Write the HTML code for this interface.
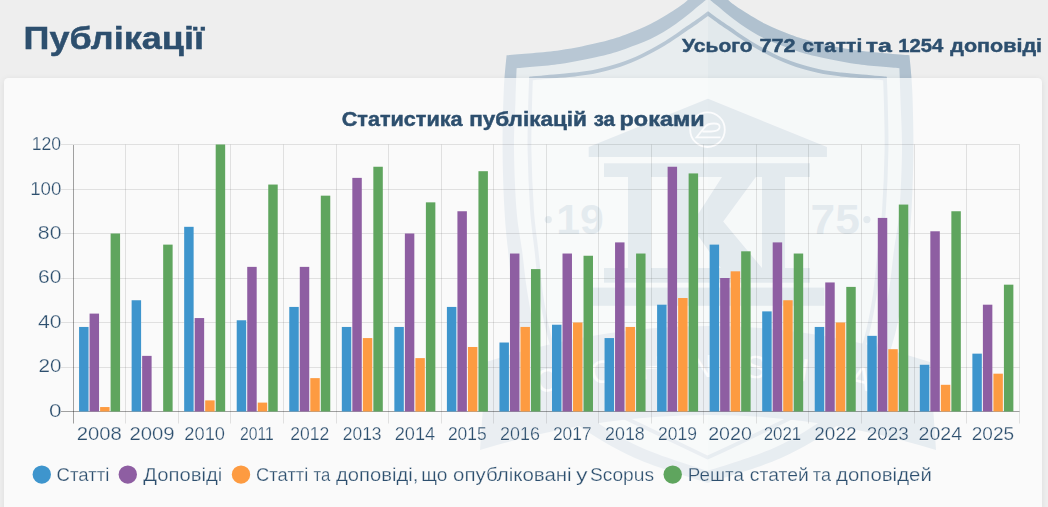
<!DOCTYPE html>
<html lang="uk"><head><meta charset="utf-8"><title>Публікації</title>
<style>
html,body{margin:0;padding:0;}
body{width:1048px;height:507px;overflow:hidden;background:#eeeeee;position:relative;font-family:"Liberation Sans",Arial,sans-serif;}
#wm{position:absolute;left:0;top:0;}
.card{position:absolute;left:4px;top:78px;width:1038px;height:470px;background:rgba(255,255,255,0.7);border-radius:4.5px;box-shadow:0 1px 6px rgba(0,0,0,0.08);}
#ch{position:absolute;left:0;top:0;will-change:transform;}
.t{font-family:"Liberation Sans",Arial,sans-serif;fill:#2d4f6e;stroke:#f9f9f9;stroke-width:0.25px;}
.b{font-family:"Liberation Sans",Arial,sans-serif;font-weight:bold;fill:#2d4f6e;stroke:#2d4f6e;stroke-width:0.45px;}
.g{stroke:rgba(0,0,0,0.1);stroke-width:1;}
.a{stroke:rgba(0,0,0,0.36);stroke-width:1;}
</style></head><body>
<svg id="wm" width="1048" height="507" viewBox="0 0 1048 507"><defs><clipPath id="cl"><rect x="0" y="-40" width="708" height="600"/></clipPath><clipPath id="cr"><rect x="708" y="-40" width="400" height="600"/></clipPath></defs>
<g clip-path="url(#cl)">
<path d="M708.0,-19.0 C704.7,-15.9 693.8,-5.2 688.4,-0.5 C683.0,4.2 682.1,4.9 675.8,9.0 C669.5,13.1 658.9,19.7 650.5,24.0 C642.1,28.3 633.7,31.7 625.3,34.7 C616.9,37.8 610.9,39.7 600.0,42.3 C589.1,44.9 575.6,48.1 560.0,50.2 C544.4,52.4 515.5,54.4 506.6,55.2 C506.1,61.0 504.5,74.2 503.8,90.0 C503.1,105.8 502.5,130.0 502.6,150.0 C502.7,170.0 503.6,193.3 504.5,210.0 C505.4,226.7 506.4,235.0 508.0,250.0 C509.6,265.0 511.3,284.2 514.0,300.0 C516.7,315.8 519.3,330.0 524.0,345.0 C528.7,360.0 533.0,376.7 542.0,390.0 C551.0,403.3 562.5,413.7 578.0,425.0 C593.5,436.3 613.4,448.3 635.0,458.0 C656.6,467.7 695.4,478.8 707.5,483.0 C720.6,478.8 759.4,467.7 781.0,458.0 C802.6,448.3 822.5,436.3 838.0,425.0 C853.5,413.7 865.0,403.3 874.0,390.0 C883.0,376.7 887.3,360.0 892.0,345.0 C896.7,330.0 899.3,315.8 902.0,300.0 C904.7,284.2 906.4,265.0 908.0,250.0 C909.6,235.0 910.6,226.7 911.5,210.0 C912.4,193.3 913.3,170.0 913.4,150.0 C913.5,130.0 912.9,105.8 912.2,90.0 C911.5,74.2 909.9,61.0 909.4,55.2 C900.5,54.4 871.6,52.4 856.0,50.2 C840.4,48.1 826.9,44.9 816.0,42.3 C805.1,39.7 799.1,37.8 790.7,34.7 C782.3,31.7 773.9,28.3 765.5,24.0 C757.1,19.7 746.5,13.1 740.2,9.0 C733.9,4.9 733.0,4.2 727.6,-0.5 C722.2,-5.2 711.3,-15.9 708.0,-19.0 Z" fill="#e8edef"/>
<path d="M708.0,-19.0 C704.7,-15.9 693.8,-5.2 688.4,-0.5 C683.0,4.2 682.1,4.9 675.8,9.0 C669.5,13.1 658.9,19.7 650.5,24.0 C642.1,28.3 633.7,31.7 625.3,34.7 C616.9,37.8 610.9,39.7 600.0,42.3 C589.1,44.9 575.6,48.1 560.0,50.2 C544.4,52.4 515.5,54.4 506.6,55.2 C506.1,61.0 504.5,74.2 503.8,90.0 C503.1,105.8 502.5,130.0 502.6,150.0 C502.7,170.0 503.6,193.3 504.5,210.0 C505.4,226.7 506.4,235.0 508.0,250.0 C509.6,265.0 511.3,284.2 514.0,300.0 C516.7,315.8 519.3,330.0 524.0,345.0 C528.7,360.0 533.0,376.7 542.0,390.0 C551.0,403.3 562.5,413.7 578.0,425.0 C593.5,436.3 613.4,448.3 635.0,458.0 C656.6,467.7 695.4,478.8 707.5,483.0 C720.6,478.8 759.4,467.7 781.0,458.0 C802.6,448.3 822.5,436.3 838.0,425.0 C853.5,413.7 865.0,403.3 874.0,390.0 C883.0,376.7 887.3,360.0 892.0,345.0 C896.7,330.0 899.3,315.8 902.0,300.0 C904.7,284.2 906.4,265.0 908.0,250.0 C909.6,235.0 910.6,226.7 911.5,210.0 C912.4,193.3 913.3,170.0 913.4,150.0 C913.5,130.0 912.9,105.8 912.2,90.0 C911.5,74.2 909.9,61.0 909.4,55.2 C900.5,54.4 871.6,52.4 856.0,50.2 C840.4,48.1 826.9,44.9 816.0,42.3 C805.1,39.7 799.1,37.8 790.7,34.7 C782.3,31.7 773.9,28.3 765.5,24.0 C757.1,19.7 746.5,13.1 740.2,9.0 C733.9,4.9 733.0,4.2 727.6,-0.5 C722.2,-5.2 711.3,-15.9 708.0,-19.0 Z M708.0,-2.0 C706.8,-1.0 706.4,-0.3 701.0,4.0 C695.6,8.3 684.2,18.1 675.8,24.0 C667.4,29.9 658.9,35.0 650.5,39.1 C642.1,43.2 633.7,46.0 625.3,48.9 C616.9,51.8 610.9,53.8 600.0,56.3 C589.1,58.8 573.9,62.0 560.0,64.0 C546.1,66.0 523.8,67.5 516.6,68.2 C516.4,73.5 515.9,86.4 515.5,100.0 C515.1,113.6 513.8,131.7 514.0,150.0 C514.2,168.3 515.2,193.3 516.5,210.0 C517.8,226.7 520.2,236.7 522.0,250.0 C523.8,263.3 524.7,275.8 527.0,290.0 C529.3,304.2 531.7,320.0 536.0,335.0 C540.3,350.0 544.5,366.7 553.0,380.0 C561.5,393.3 572.5,403.8 587.0,415.0 C601.5,426.2 619.9,437.7 640.0,447.0 C660.1,456.3 696.2,467.0 707.5,471.0 C719.8,467.0 755.9,456.3 776.0,447.0 C796.1,437.7 814.5,426.2 829.0,415.0 C843.5,403.8 854.5,393.3 863.0,380.0 C871.5,366.7 875.7,350.0 880.0,335.0 C884.3,320.0 886.7,304.2 889.0,290.0 C891.3,275.8 892.2,263.3 894.0,250.0 C895.8,236.7 898.2,226.7 899.5,210.0 C900.8,193.3 901.8,168.3 902.0,150.0 C902.2,131.7 900.9,113.6 900.5,100.0 C900.1,86.4 899.6,73.5 899.4,68.2 C892.2,67.5 869.9,66.0 856.0,64.0 C842.1,62.0 826.9,58.8 816.0,56.3 C805.1,53.8 799.1,51.8 790.7,48.9 C782.3,46.0 773.9,43.2 765.5,39.1 C757.1,35.0 748.6,29.9 740.2,24.0 C731.8,18.1 720.4,8.3 715.0,4.0 C709.6,-0.3 709.2,-1.0 708.0,-2.0 Z" fill-rule="evenodd" fill="#b8c7d4"/>
<path d="M708.0,13.6 C706.2,14.9 700.7,19.0 697.0,21.6 C693.3,24.2 689.7,26.6 686.0,29.1 C682.3,31.6 678.7,34.3 675.0,36.8 C671.3,39.3 667.7,41.7 664.0,43.9 C660.3,46.1 656.7,48.2 653.0,50.2 C649.3,52.2 645.7,54.1 642.0,55.9 C638.3,57.7 634.7,59.3 631.0,60.8 C627.3,62.3 623.7,63.7 620.0,64.9 C616.3,66.1 612.7,67.2 609.0,68.2 C605.3,69.2 601.7,70.0 598.0,70.8 C594.3,71.6 590.7,72.3 587.0,72.9 C583.3,73.5 579.7,74.0 576.0,74.4 C572.3,74.8 568.7,75.2 565.0,75.5 C561.3,75.8 557.7,76.1 554.0,76.4 C550.3,76.7 546.8,77.0 543.0,77.3 C539.2,77.6 533.0,78.3 531.0,78.5 C530.8,83.8 530.2,98.1 530.0,110.0 C529.8,121.9 529.2,133.3 529.5,150.0 C529.8,166.7 530.9,193.3 532.0,210.0 C533.1,226.7 534.7,235.0 536.4,250.0 C538.1,265.0 539.4,284.2 542.0,300.0 C544.6,315.8 547.3,331.3 552.0,345.0 C556.7,358.7 562.0,372.0 570.0,382.0 C578.0,392.0 588.3,397.8 600.0,405.0 C611.7,412.2 622.1,416.2 640.0,425.0 C657.9,433.8 696.2,452.1 707.5,457.5 C719.8,452.1 758.1,433.8 776.0,425.0 C793.9,416.2 804.3,412.2 816.0,405.0 C827.7,397.8 838.0,392.0 846.0,382.0 C854.0,372.0 859.3,358.7 864.0,345.0 C868.7,331.3 871.4,315.8 874.0,300.0 C876.6,284.2 877.9,265.0 879.6,250.0 C881.3,235.0 882.9,226.7 884.0,210.0 C885.1,193.3 886.2,166.7 886.5,150.0 C886.8,133.3 886.2,121.9 886.0,110.0 C885.8,98.1 885.2,83.8 885.0,78.5 C883.0,78.3 876.8,77.6 873.0,77.3 C869.2,77.0 865.7,76.7 862.0,76.4 C858.3,76.1 854.7,75.8 851.0,75.5 C847.3,75.2 843.7,74.8 840.0,74.4 C836.3,74.0 832.7,73.5 829.0,72.9 C825.3,72.3 821.7,71.6 818.0,70.8 C814.3,70.0 810.7,69.2 807.0,68.2 C803.3,67.2 799.7,66.1 796.0,64.9 C792.3,63.7 788.7,62.3 785.0,60.8 C781.3,59.3 777.7,57.7 774.0,55.9 C770.3,54.1 766.7,52.2 763.0,50.2 C759.3,48.2 755.7,46.1 752.0,43.9 C748.3,41.7 744.7,39.3 741.0,36.8 C737.3,34.3 733.7,31.6 730.0,29.1 C726.3,26.6 722.7,24.2 719.0,21.6 C715.3,19.0 709.8,14.9 708.0,13.6 Z" fill="none" stroke="#b8c7d4" stroke-width="3.8"/>
<path d="M588.7,147 L707.8,98.7 L826.9,147 L826.9,157 L588.7,157 Z" fill="#a6bcca"/>
<path d="M604,163.2 H810 V177 H785 V268 H720.8 L698.3,236 V268 H676 V177 H651 V268 H628 V177 H604 Z M755.8,177 H762 V268 L723.2,221.5 Z M698.3,177 H722 L698.3,213.7 Z" fill-rule="evenodd" fill="#a6bcca"/>
<rect x="604" y="268" width="206" height="14.7" fill="#a6bcca"/>
<rect x="592.4" y="287.6" width="232" height="18.2" fill="#a6bcca"/>
<path d="M486,362 Q708,290 930,362 L936,450 L919,445 Q708,385 497,445 L480,450 Z" fill="#b8c7d4"/>
<text x="556.31" y="233.8" font-family="Liberation Sans, Arial, sans-serif" font-weight="bold" font-size="41.6" fill="#a6bcca" textLength="47.47" lengthAdjust="spacingAndGlyphs">19</text>
<text x="810.60" y="233.8" font-family="Liberation Sans, Arial, sans-serif" font-weight="bold" font-size="41.6" fill="#a6bcca" textLength="49.23" lengthAdjust="spacingAndGlyphs">75</text>
<circle cx="548.3" cy="219.6" r="3.6" fill="#a6bcca"/><circle cx="866.9" cy="219.6" r="3.6" fill="#a6bcca"/>
</g>
<g clip-path="url(#cr)">
<path d="M708.0,-19.0 C704.7,-15.9 693.8,-5.2 688.4,-0.5 C683.0,4.2 682.1,4.9 675.8,9.0 C669.5,13.1 658.9,19.7 650.5,24.0 C642.1,28.3 633.7,31.7 625.3,34.7 C616.9,37.8 610.9,39.7 600.0,42.3 C589.1,44.9 575.6,48.1 560.0,50.2 C544.4,52.4 515.5,54.4 506.6,55.2 C506.1,61.0 504.5,74.2 503.8,90.0 C503.1,105.8 502.5,130.0 502.6,150.0 C502.7,170.0 503.6,193.3 504.5,210.0 C505.4,226.7 506.4,235.0 508.0,250.0 C509.6,265.0 511.3,284.2 514.0,300.0 C516.7,315.8 519.3,330.0 524.0,345.0 C528.7,360.0 533.0,376.7 542.0,390.0 C551.0,403.3 562.5,413.7 578.0,425.0 C593.5,436.3 613.4,448.3 635.0,458.0 C656.6,467.7 695.4,478.8 707.5,483.0 C720.6,478.8 759.4,467.7 781.0,458.0 C802.6,448.3 822.5,436.3 838.0,425.0 C853.5,413.7 865.0,403.3 874.0,390.0 C883.0,376.7 887.3,360.0 892.0,345.0 C896.7,330.0 899.3,315.8 902.0,300.0 C904.7,284.2 906.4,265.0 908.0,250.0 C909.6,235.0 910.6,226.7 911.5,210.0 C912.4,193.3 913.3,170.0 913.4,150.0 C913.5,130.0 912.9,105.8 912.2,90.0 C911.5,74.2 909.9,61.0 909.4,55.2 C900.5,54.4 871.6,52.4 856.0,50.2 C840.4,48.1 826.9,44.9 816.0,42.3 C805.1,39.7 799.1,37.8 790.7,34.7 C782.3,31.7 773.9,28.3 765.5,24.0 C757.1,19.7 746.5,13.1 740.2,9.0 C733.9,4.9 733.0,4.2 727.6,-0.5 C722.2,-5.2 711.3,-15.9 708.0,-19.0 Z" fill="#e2e9ec"/>
<path d="M708.0,-19.0 C704.7,-15.9 693.8,-5.2 688.4,-0.5 C683.0,4.2 682.1,4.9 675.8,9.0 C669.5,13.1 658.9,19.7 650.5,24.0 C642.1,28.3 633.7,31.7 625.3,34.7 C616.9,37.8 610.9,39.7 600.0,42.3 C589.1,44.9 575.6,48.1 560.0,50.2 C544.4,52.4 515.5,54.4 506.6,55.2 C506.1,61.0 504.5,74.2 503.8,90.0 C503.1,105.8 502.5,130.0 502.6,150.0 C502.7,170.0 503.6,193.3 504.5,210.0 C505.4,226.7 506.4,235.0 508.0,250.0 C509.6,265.0 511.3,284.2 514.0,300.0 C516.7,315.8 519.3,330.0 524.0,345.0 C528.7,360.0 533.0,376.7 542.0,390.0 C551.0,403.3 562.5,413.7 578.0,425.0 C593.5,436.3 613.4,448.3 635.0,458.0 C656.6,467.7 695.4,478.8 707.5,483.0 C720.6,478.8 759.4,467.7 781.0,458.0 C802.6,448.3 822.5,436.3 838.0,425.0 C853.5,413.7 865.0,403.3 874.0,390.0 C883.0,376.7 887.3,360.0 892.0,345.0 C896.7,330.0 899.3,315.8 902.0,300.0 C904.7,284.2 906.4,265.0 908.0,250.0 C909.6,235.0 910.6,226.7 911.5,210.0 C912.4,193.3 913.3,170.0 913.4,150.0 C913.5,130.0 912.9,105.8 912.2,90.0 C911.5,74.2 909.9,61.0 909.4,55.2 C900.5,54.4 871.6,52.4 856.0,50.2 C840.4,48.1 826.9,44.9 816.0,42.3 C805.1,39.7 799.1,37.8 790.7,34.7 C782.3,31.7 773.9,28.3 765.5,24.0 C757.1,19.7 746.5,13.1 740.2,9.0 C733.9,4.9 733.0,4.2 727.6,-0.5 C722.2,-5.2 711.3,-15.9 708.0,-19.0 Z M708.0,-2.0 C706.8,-1.0 706.4,-0.3 701.0,4.0 C695.6,8.3 684.2,18.1 675.8,24.0 C667.4,29.9 658.9,35.0 650.5,39.1 C642.1,43.2 633.7,46.0 625.3,48.9 C616.9,51.8 610.9,53.8 600.0,56.3 C589.1,58.8 573.9,62.0 560.0,64.0 C546.1,66.0 523.8,67.5 516.6,68.2 C516.4,73.5 515.9,86.4 515.5,100.0 C515.1,113.6 513.8,131.7 514.0,150.0 C514.2,168.3 515.2,193.3 516.5,210.0 C517.8,226.7 520.2,236.7 522.0,250.0 C523.8,263.3 524.7,275.8 527.0,290.0 C529.3,304.2 531.7,320.0 536.0,335.0 C540.3,350.0 544.5,366.7 553.0,380.0 C561.5,393.3 572.5,403.8 587.0,415.0 C601.5,426.2 619.9,437.7 640.0,447.0 C660.1,456.3 696.2,467.0 707.5,471.0 C719.8,467.0 755.9,456.3 776.0,447.0 C796.1,437.7 814.5,426.2 829.0,415.0 C843.5,403.8 854.5,393.3 863.0,380.0 C871.5,366.7 875.7,350.0 880.0,335.0 C884.3,320.0 886.7,304.2 889.0,290.0 C891.3,275.8 892.2,263.3 894.0,250.0 C895.8,236.7 898.2,226.7 899.5,210.0 C900.8,193.3 901.8,168.3 902.0,150.0 C902.2,131.7 900.9,113.6 900.5,100.0 C900.1,86.4 899.6,73.5 899.4,68.2 C892.2,67.5 869.9,66.0 856.0,64.0 C842.1,62.0 826.9,58.8 816.0,56.3 C805.1,53.8 799.1,51.8 790.7,48.9 C782.3,46.0 773.9,43.2 765.5,39.1 C757.1,35.0 748.6,29.9 740.2,24.0 C731.8,18.1 720.4,8.3 715.0,4.0 C709.6,-0.3 709.2,-1.0 708.0,-2.0 Z" fill-rule="evenodd" fill="#b0c1cf"/>
<path d="M708.0,13.6 C706.2,14.9 700.7,19.0 697.0,21.6 C693.3,24.2 689.7,26.6 686.0,29.1 C682.3,31.6 678.7,34.3 675.0,36.8 C671.3,39.3 667.7,41.7 664.0,43.9 C660.3,46.1 656.7,48.2 653.0,50.2 C649.3,52.2 645.7,54.1 642.0,55.9 C638.3,57.7 634.7,59.3 631.0,60.8 C627.3,62.3 623.7,63.7 620.0,64.9 C616.3,66.1 612.7,67.2 609.0,68.2 C605.3,69.2 601.7,70.0 598.0,70.8 C594.3,71.6 590.7,72.3 587.0,72.9 C583.3,73.5 579.7,74.0 576.0,74.4 C572.3,74.8 568.7,75.2 565.0,75.5 C561.3,75.8 557.7,76.1 554.0,76.4 C550.3,76.7 546.8,77.0 543.0,77.3 C539.2,77.6 533.0,78.3 531.0,78.5 C530.8,83.8 530.2,98.1 530.0,110.0 C529.8,121.9 529.2,133.3 529.5,150.0 C529.8,166.7 530.9,193.3 532.0,210.0 C533.1,226.7 534.7,235.0 536.4,250.0 C538.1,265.0 539.4,284.2 542.0,300.0 C544.6,315.8 547.3,331.3 552.0,345.0 C556.7,358.7 562.0,372.0 570.0,382.0 C578.0,392.0 588.3,397.8 600.0,405.0 C611.7,412.2 622.1,416.2 640.0,425.0 C657.9,433.8 696.2,452.1 707.5,457.5 C719.8,452.1 758.1,433.8 776.0,425.0 C793.9,416.2 804.3,412.2 816.0,405.0 C827.7,397.8 838.0,392.0 846.0,382.0 C854.0,372.0 859.3,358.7 864.0,345.0 C868.7,331.3 871.4,315.8 874.0,300.0 C876.6,284.2 877.9,265.0 879.6,250.0 C881.3,235.0 882.9,226.7 884.0,210.0 C885.1,193.3 886.2,166.7 886.5,150.0 C886.8,133.3 886.2,121.9 886.0,110.0 C885.8,98.1 885.2,83.8 885.0,78.5 C883.0,78.3 876.8,77.6 873.0,77.3 C869.2,77.0 865.7,76.7 862.0,76.4 C858.3,76.1 854.7,75.8 851.0,75.5 C847.3,75.2 843.7,74.8 840.0,74.4 C836.3,74.0 832.7,73.5 829.0,72.9 C825.3,72.3 821.7,71.6 818.0,70.8 C814.3,70.0 810.7,69.2 807.0,68.2 C803.3,67.2 799.7,66.1 796.0,64.9 C792.3,63.7 788.7,62.3 785.0,60.8 C781.3,59.3 777.7,57.7 774.0,55.9 C770.3,54.1 766.7,52.2 763.0,50.2 C759.3,48.2 755.7,46.1 752.0,43.9 C748.3,41.7 744.7,39.3 741.0,36.8 C737.3,34.3 733.7,31.6 730.0,29.1 C726.3,26.6 722.7,24.2 719.0,21.6 C715.3,19.0 709.8,14.9 708.0,13.6 Z" fill="none" stroke="#b0c1cf" stroke-width="3.8"/>
<path d="M588.7,147 L707.8,98.7 L826.9,147 L826.9,157 L588.7,157 Z" fill="#a0b7c6"/>
<path d="M604,163.2 H810 V177 H785 V268 H720.8 L698.3,236 V268 H676 V177 H651 V268 H628 V177 H604 Z M755.8,177 H762 V268 L723.2,221.5 Z M698.3,177 H722 L698.3,213.7 Z" fill-rule="evenodd" fill="#a0b7c6"/>
<rect x="604" y="268" width="206" height="14.7" fill="#a0b7c6"/>
<rect x="592.4" y="287.6" width="232" height="18.2" fill="#a0b7c6"/>
<path d="M486,362 Q708,290 930,362 L936,450 L919,445 Q708,385 497,445 L480,450 Z" fill="#b0c1cf"/>
<text x="556.31" y="233.8" font-family="Liberation Sans, Arial, sans-serif" font-weight="bold" font-size="41.6" fill="#a0b7c6" textLength="47.47" lengthAdjust="spacingAndGlyphs">19</text>
<text x="810.60" y="233.8" font-family="Liberation Sans, Arial, sans-serif" font-weight="bold" font-size="41.6" fill="#a0b7c6" textLength="49.23" lengthAdjust="spacingAndGlyphs">75</text>
<circle cx="548.3" cy="219.6" r="3.6" fill="#a0b7c6"/><circle cx="866.9" cy="219.6" r="3.6" fill="#a0b7c6"/>
</g>
<g fill="none" stroke="#f3f5f7" stroke-width="1.8"><circle cx="707.5" cy="129.7" r="17.3"/><path d="M704.5,127.5 Q707,123.5 714,123.5 Q720.5,123.5 719.5,127.8 Q718.5,131.5 711,131.5 L702.5,131.5 M704.5,127.5 L696.5,137.3 H720.5"/></g>
<text x="535" y="392" transform="rotate(-14 545 380)" font-family="Liberation Sans, Arial, sans-serif" font-size="32" fill="#f3f5f7">O</text>
<text x="590" y="383" transform="rotate(-9 600 371)" font-family="Liberation Sans, Arial, sans-serif" font-size="32" fill="#f3f5f7">C</text>
<text x="640" y="379" transform="rotate(-4 650 367)" font-family="Liberation Sans, Arial, sans-serif" font-size="32" fill="#f3f5f7">H</text>
<text x="690" y="377" transform="rotate(0 700 365)" font-family="Liberation Sans, Arial, sans-serif" font-size="32" fill="#f3f5f7">N</text>
<text x="745" y="378" transform="rotate(4 755 366)" font-family="Liberation Sans, Arial, sans-serif" font-size="32" fill="#f3f5f7">S</text>
<text x="800" y="382" transform="rotate(9 810 370)" font-family="Liberation Sans, Arial, sans-serif" font-size="32" fill="#f3f5f7">I</text>
<text x="850" y="389" transform="rotate(14 860 377)" font-family="Liberation Sans, Arial, sans-serif" font-size="32" fill="#f3f5f7">A</text></svg>
<div class="card"></div>
<svg id="ch" width="1048" height="507" viewBox="0 0 1048 507">
<text x="23.63" y="48.8" class="b" font-size="31.6" textLength="180.40" lengthAdjust="spacingAndGlyphs">Публікації</text>
<text x="682.11" y="51.7" class="b" font-size="19.1" textLength="70.46" lengthAdjust="spacingAndGlyphs">Усього</text>
<text x="759.49" y="51.7" class="b" font-size="19.1" textLength="36.15" lengthAdjust="spacingAndGlyphs">772</text>
<text x="802.20" y="51.7" class="b" font-size="19.1" textLength="60.06" lengthAdjust="spacingAndGlyphs">статті</text>
<text x="865.72" y="51.7" class="b" font-size="19.1" textLength="26.10" lengthAdjust="spacingAndGlyphs">та</text>
<text x="898.35" y="51.7" class="b" font-size="19.1" textLength="45.03" lengthAdjust="spacingAndGlyphs">1254</text>
<text x="950.28" y="51.7" class="b" font-size="19.1" textLength="91.82" lengthAdjust="spacingAndGlyphs">доповіді</text>
<line x1="61" x2="1019.5" y1="367.5" y2="367.5" class="g"/>
<line x1="61" x2="1019.5" y1="322.5" y2="322.5" class="g"/>
<line x1="61" x2="1019.5" y1="278.5" y2="278.5" class="g"/>
<line x1="61" x2="1019.5" y1="233.5" y2="233.5" class="g"/>
<line x1="61" x2="1019.5" y1="189.5" y2="189.5" class="g"/>
<line x1="61" x2="1019.5" y1="144.5" y2="144.5" class="g"/>
<line x1="125.5" x2="125.5" y1="144.5" y2="423.5" class="g"/>
<line x1="178.5" x2="178.5" y1="144.5" y2="423.5" class="g"/>
<line x1="230.5" x2="230.5" y1="144.5" y2="423.5" class="g"/>
<line x1="283.5" x2="283.5" y1="144.5" y2="423.5" class="g"/>
<line x1="336.5" x2="336.5" y1="144.5" y2="423.5" class="g"/>
<line x1="388.5" x2="388.5" y1="144.5" y2="423.5" class="g"/>
<line x1="441.5" x2="441.5" y1="144.5" y2="423.5" class="g"/>
<line x1="493.5" x2="493.5" y1="144.5" y2="423.5" class="g"/>
<line x1="546.5" x2="546.5" y1="144.5" y2="423.5" class="g"/>
<line x1="598.5" x2="598.5" y1="144.5" y2="423.5" class="g"/>
<line x1="651.5" x2="651.5" y1="144.5" y2="423.5" class="g"/>
<line x1="703.5" x2="703.5" y1="144.5" y2="423.5" class="g"/>
<line x1="756.5" x2="756.5" y1="144.5" y2="423.5" class="g"/>
<line x1="808.5" x2="808.5" y1="144.5" y2="423.5" class="g"/>
<line x1="861.5" x2="861.5" y1="144.5" y2="423.5" class="g"/>
<line x1="914.5" x2="914.5" y1="144.5" y2="423.5" class="g"/>
<line x1="966.5" x2="966.5" y1="144.5" y2="423.5" class="g"/>
<line x1="1019.5" x2="1019.5" y1="144.5" y2="423.5" class="g"/>
<line x1="73.5" x2="73.5" y1="145" y2="423.5" class="a"/>
<line x1="61" x2="1019.5" y1="411.5" y2="411.5" class="a"/>
<rect x="79.08" y="326.95" width="9.46" height="84.55" fill="#3e95cd"/>
<rect x="89.59" y="313.60" width="9.46" height="97.90" fill="#8e5ea2"/>
<rect x="100.10" y="407.05" width="9.46" height="4.45" fill="#fd9b41"/>
<rect x="110.61" y="233.50" width="9.46" height="178.00" fill="#5fa55e"/>
<rect x="131.63" y="300.25" width="9.46" height="111.25" fill="#3e95cd"/>
<rect x="142.14" y="355.88" width="9.46" height="55.62" fill="#8e5ea2"/>
<rect x="163.16" y="244.62" width="9.46" height="166.88" fill="#5fa55e"/>
<rect x="184.17" y="226.82" width="9.46" height="184.68" fill="#3e95cd"/>
<rect x="194.68" y="318.05" width="9.46" height="93.45" fill="#8e5ea2"/>
<rect x="205.19" y="400.38" width="9.46" height="11.12" fill="#fd9b41"/>
<rect x="215.70" y="144.50" width="9.46" height="267.00" fill="#5fa55e"/>
<rect x="236.72" y="320.27" width="9.46" height="91.23" fill="#3e95cd"/>
<rect x="247.23" y="266.88" width="9.46" height="144.62" fill="#8e5ea2"/>
<rect x="257.74" y="402.60" width="9.46" height="8.90" fill="#fd9b41"/>
<rect x="268.25" y="184.55" width="9.46" height="226.95" fill="#5fa55e"/>
<rect x="289.27" y="306.93" width="9.46" height="104.57" fill="#3e95cd"/>
<rect x="299.78" y="266.88" width="9.46" height="144.62" fill="#8e5ea2"/>
<rect x="310.29" y="378.12" width="9.46" height="33.38" fill="#fd9b41"/>
<rect x="320.80" y="195.67" width="9.46" height="215.83" fill="#5fa55e"/>
<rect x="341.82" y="326.95" width="9.46" height="84.55" fill="#3e95cd"/>
<rect x="352.32" y="177.88" width="9.46" height="233.62" fill="#8e5ea2"/>
<rect x="362.83" y="338.07" width="9.46" height="73.43" fill="#fd9b41"/>
<rect x="373.34" y="166.75" width="9.46" height="244.75" fill="#5fa55e"/>
<rect x="394.36" y="326.95" width="9.46" height="84.55" fill="#3e95cd"/>
<rect x="404.87" y="233.50" width="9.46" height="178.00" fill="#8e5ea2"/>
<rect x="415.38" y="358.10" width="9.46" height="53.40" fill="#fd9b41"/>
<rect x="425.89" y="202.35" width="9.46" height="209.15" fill="#5fa55e"/>
<rect x="446.91" y="306.93" width="9.46" height="104.57" fill="#3e95cd"/>
<rect x="457.42" y="211.25" width="9.46" height="200.25" fill="#8e5ea2"/>
<rect x="467.93" y="346.98" width="9.46" height="64.52" fill="#fd9b41"/>
<rect x="478.44" y="171.20" width="9.46" height="240.30" fill="#5fa55e"/>
<rect x="499.46" y="342.52" width="9.46" height="68.98" fill="#3e95cd"/>
<rect x="509.97" y="253.53" width="9.46" height="157.97" fill="#8e5ea2"/>
<rect x="520.47" y="326.95" width="9.46" height="84.55" fill="#fd9b41"/>
<rect x="530.98" y="269.10" width="9.46" height="142.40" fill="#5fa55e"/>
<rect x="552.00" y="324.73" width="9.46" height="86.77" fill="#3e95cd"/>
<rect x="562.51" y="253.53" width="9.46" height="157.97" fill="#8e5ea2"/>
<rect x="573.02" y="322.50" width="9.46" height="89.00" fill="#fd9b41"/>
<rect x="583.53" y="255.75" width="9.46" height="155.75" fill="#5fa55e"/>
<rect x="604.55" y="338.07" width="9.46" height="73.43" fill="#3e95cd"/>
<rect x="615.06" y="242.40" width="9.46" height="169.10" fill="#8e5ea2"/>
<rect x="625.57" y="326.95" width="9.46" height="84.55" fill="#fd9b41"/>
<rect x="636.08" y="253.53" width="9.46" height="157.97" fill="#5fa55e"/>
<rect x="657.10" y="304.70" width="9.46" height="106.80" fill="#3e95cd"/>
<rect x="667.61" y="166.75" width="9.46" height="244.75" fill="#8e5ea2"/>
<rect x="678.12" y="298.02" width="9.46" height="113.48" fill="#fd9b41"/>
<rect x="688.63" y="173.42" width="9.46" height="238.08" fill="#5fa55e"/>
<rect x="709.64" y="244.62" width="9.46" height="166.88" fill="#3e95cd"/>
<rect x="720.15" y="278.00" width="9.46" height="133.50" fill="#8e5ea2"/>
<rect x="730.66" y="271.32" width="9.46" height="140.18" fill="#fd9b41"/>
<rect x="741.17" y="251.30" width="9.46" height="160.20" fill="#5fa55e"/>
<rect x="762.19" y="311.38" width="9.46" height="100.12" fill="#3e95cd"/>
<rect x="772.70" y="242.40" width="9.46" height="169.10" fill="#8e5ea2"/>
<rect x="783.21" y="300.25" width="9.46" height="111.25" fill="#fd9b41"/>
<rect x="793.72" y="253.53" width="9.46" height="157.97" fill="#5fa55e"/>
<rect x="814.74" y="326.95" width="9.46" height="84.55" fill="#3e95cd"/>
<rect x="825.25" y="282.45" width="9.46" height="129.05" fill="#8e5ea2"/>
<rect x="835.76" y="322.50" width="9.46" height="89.00" fill="#fd9b41"/>
<rect x="846.27" y="286.90" width="9.46" height="124.60" fill="#5fa55e"/>
<rect x="867.29" y="335.85" width="9.46" height="75.65" fill="#3e95cd"/>
<rect x="877.79" y="217.92" width="9.46" height="193.58" fill="#8e5ea2"/>
<rect x="888.30" y="349.20" width="9.46" height="62.30" fill="#fd9b41"/>
<rect x="898.81" y="204.57" width="9.46" height="206.93" fill="#5fa55e"/>
<rect x="919.83" y="364.77" width="9.46" height="46.73" fill="#3e95cd"/>
<rect x="930.34" y="231.28" width="9.46" height="180.22" fill="#8e5ea2"/>
<rect x="940.85" y="384.80" width="9.46" height="26.70" fill="#fd9b41"/>
<rect x="951.36" y="211.25" width="9.46" height="200.25" fill="#5fa55e"/>
<rect x="972.38" y="353.65" width="9.46" height="57.85" fill="#3e95cd"/>
<rect x="982.89" y="304.70" width="9.46" height="106.80" fill="#8e5ea2"/>
<rect x="993.40" y="373.68" width="9.46" height="37.82" fill="#fd9b41"/>
<rect x="1003.91" y="284.68" width="9.46" height="126.82" fill="#5fa55e"/>
<text x="49.02" y="416.6" class="t" font-size="17.5" textLength="12.57" lengthAdjust="spacingAndGlyphs">0</text>
<text x="38.56" y="372.0" class="t" font-size="17.5" textLength="22.94" lengthAdjust="spacingAndGlyphs">20</text>
<text x="37.91" y="327.8" class="t" font-size="17.5" textLength="23.62" lengthAdjust="spacingAndGlyphs">40</text>
<text x="38.13" y="283.0" class="t" font-size="17.5" textLength="23.39" lengthAdjust="spacingAndGlyphs">60</text>
<text x="37.88" y="238.9" class="t" font-size="17.5" textLength="23.65" lengthAdjust="spacingAndGlyphs">80</text>
<text x="30.17" y="195.0" class="t" font-size="17.5" textLength="31.26" lengthAdjust="spacingAndGlyphs">100</text>
<text x="31.66" y="150.0" class="t" font-size="17.5" textLength="29.43" lengthAdjust="spacingAndGlyphs">120</text>
<text x="76.78" y="440.0" class="t" font-size="17.5" textLength="45.10" lengthAdjust="spacingAndGlyphs">2008</text>
<text x="129.48" y="440.0" class="t" font-size="17.5" textLength="45.18" lengthAdjust="spacingAndGlyphs">2009</text>
<text x="184.38" y="440.0" class="t" font-size="17.5" textLength="40.63" lengthAdjust="spacingAndGlyphs">2010</text>
<text x="240.04" y="440.0" class="t" font-size="17.5" textLength="33.81" lengthAdjust="spacingAndGlyphs">2011</text>
<text x="290.22" y="440.0" class="t" font-size="17.5" textLength="39.07" lengthAdjust="spacingAndGlyphs">2012</text>
<text x="342.82" y="440.0" class="t" font-size="17.5" textLength="38.74" lengthAdjust="spacingAndGlyphs">2013</text>
<text x="394.69" y="440.0" class="t" font-size="17.5" textLength="40.45" lengthAdjust="spacingAndGlyphs">2014</text>
<text x="447.92" y="440.0" class="t" font-size="17.5" textLength="38.81" lengthAdjust="spacingAndGlyphs">2015</text>
<text x="500.10" y="440.0" class="t" font-size="17.5" textLength="39.89" lengthAdjust="spacingAndGlyphs">2016</text>
<text x="552.92" y="440.0" class="t" font-size="17.5" textLength="38.75" lengthAdjust="spacingAndGlyphs">2017</text>
<text x="605.11" y="440.0" class="t" font-size="17.5" textLength="39.57" lengthAdjust="spacingAndGlyphs">2018</text>
<text x="658.02" y="440.0" class="t" font-size="17.5" textLength="38.91" lengthAdjust="spacingAndGlyphs">2019</text>
<text x="708.21" y="440.0" class="t" font-size="17.5" textLength="43.65" lengthAdjust="spacingAndGlyphs">2020</text>
<text x="763.65" y="440.0" class="t" font-size="17.5" textLength="37.57" lengthAdjust="spacingAndGlyphs">2021</text>
<text x="814.35" y="440.0" class="t" font-size="17.5" textLength="42.10" lengthAdjust="spacingAndGlyphs">2022</text>
<text x="866.75" y="440.0" class="t" font-size="17.5" textLength="42.08" lengthAdjust="spacingAndGlyphs">2023</text>
<text x="918.62" y="440.0" class="t" font-size="17.5" textLength="43.45" lengthAdjust="spacingAndGlyphs">2024</text>
<text x="971.74" y="440.0" class="t" font-size="17.5" textLength="42.36" lengthAdjust="spacingAndGlyphs">2025</text>
<circle cx="41.8" cy="474.6" r="9.2" fill="#3e95cd"/>
<circle cx="127.8" cy="474.6" r="9.2" fill="#8e5ea2"/>
<circle cx="241.0" cy="474.6" r="9.2" fill="#fd9b41"/>
<circle cx="672.7" cy="474.6" r="9.2" fill="#5fa55e"/>
<text x="56.57" y="480.5" class="t" font-size="18" textLength="52.87" lengthAdjust="spacingAndGlyphs">Статті</text>
<text x="143.35" y="480.5" class="t" font-size="18" textLength="79.02" lengthAdjust="spacingAndGlyphs">Доповіді</text>
<text x="256.08" y="480.5" class="t" font-size="18" textLength="52.25" lengthAdjust="spacingAndGlyphs">Статті</text>
<text x="313.42" y="480.5" class="t" font-size="18" textLength="16.78" lengthAdjust="spacingAndGlyphs">та</text>
<text x="336.00" y="480.5" class="t" font-size="18" textLength="82.31" lengthAdjust="spacingAndGlyphs">доповіді,</text>
<text x="421.29" y="480.5" class="t" font-size="18" textLength="26.11" lengthAdjust="spacingAndGlyphs">що</text>
<text x="453.05" y="480.5" class="t" font-size="18" textLength="118.62" lengthAdjust="spacingAndGlyphs">опубліковані</text>
<text x="576.14" y="480.5" class="t" font-size="18" textLength="11.60" lengthAdjust="spacingAndGlyphs">у</text>
<text x="590.03" y="480.5" class="t" font-size="18" textLength="64.07" lengthAdjust="spacingAndGlyphs">Scopus</text>
<text x="687.89" y="480.5" class="t" font-size="18" textLength="56.01" lengthAdjust="spacingAndGlyphs">Решта</text>
<text x="749.89" y="480.5" class="t" font-size="18" textLength="58.83" lengthAdjust="spacingAndGlyphs">статей</text>
<text x="812.89" y="480.5" class="t" font-size="18" textLength="18.11" lengthAdjust="spacingAndGlyphs">та</text>
<text x="836.10" y="480.5" class="t" font-size="18" textLength="95.71" lengthAdjust="spacingAndGlyphs">доповідей</text>
<text x="341.74" y="125.8" class="b" font-size="19.5" textLength="120.80" lengthAdjust="spacingAndGlyphs">Статистика</text>
<text x="469.16" y="125.8" class="b" font-size="19.5" textLength="117.67" lengthAdjust="spacingAndGlyphs">публікацій</text>
<text x="593.70" y="125.8" class="b" font-size="19.5" textLength="21.35" lengthAdjust="spacingAndGlyphs">за</text>
<text x="619.58" y="125.8" class="b" font-size="19.5" textLength="85.02" lengthAdjust="spacingAndGlyphs">роками</text>
</svg>
</body></html>
